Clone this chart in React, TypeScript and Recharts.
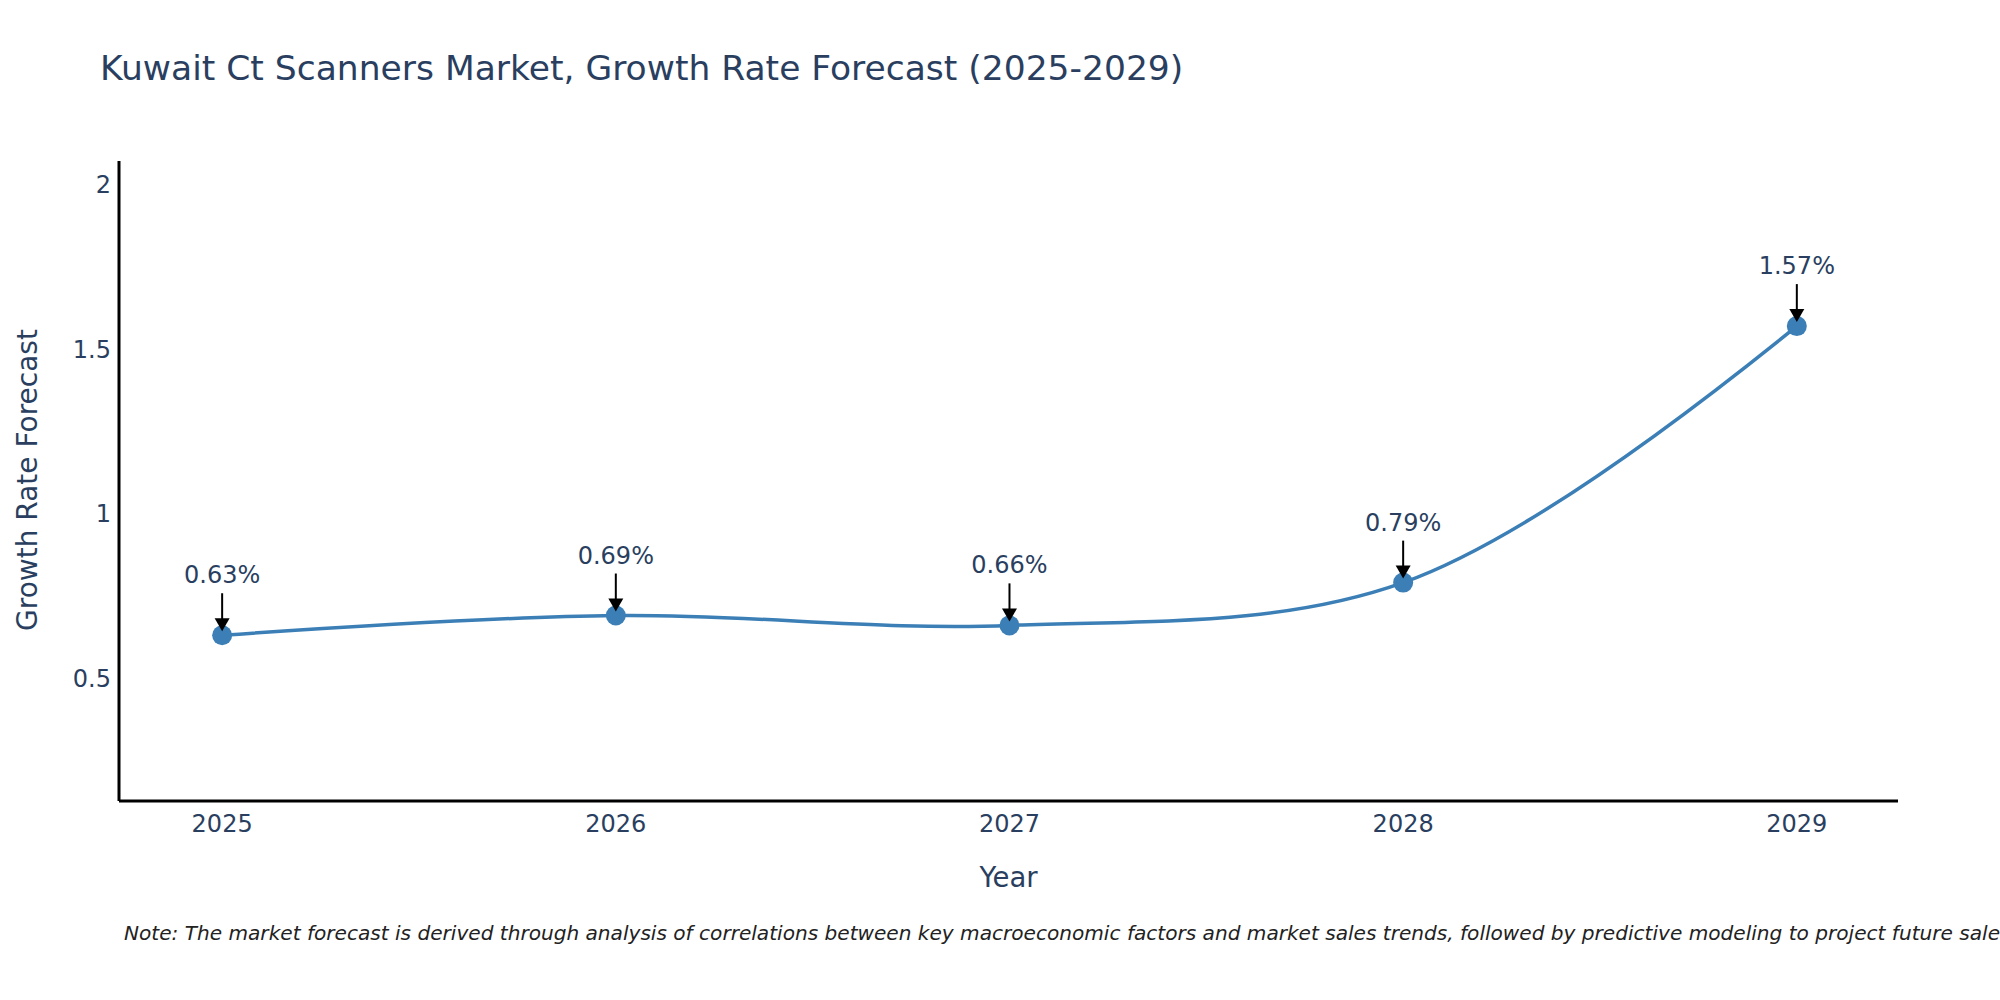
import { LineChart, Line, XAxis, YAxis, LabelList } from 'recharts';

const FONT = '"DejaVu Sans", Verdana, sans-serif';
const TEXT_COLOR = '#2a3f5f';
const LINE_COLOR = '#3b7fb6';

const years = [2025, 2026, 2027, 2028, 2029];
const growthRate = [0.63, 0.69, 0.66, 0.79, 1.57];
const yTicks = [0.5, 1, 1.5, 2];

const chartData = years.map((year, i) => ({ year, rate: growthRate[i] }));

// plotly-style spline (catmull-rom tangents, smoothing = 1)
function makeTangent(prev: number[], cur: number[], next: number[], smoothness: number) {
  const d1x = prev[0] - cur[0];
  const d1y = prev[1] - cur[1];
  const d2x = next[0] - cur[0];
  const d2y = next[1] - cur[1];
  const d1a = Math.pow(d1x * d1x + d1y * d1y, 0.25);
  const d2a = Math.pow(d2x * d2x + d2y * d2y, 0.25);
  const numx = (d2a * d2a * d1x - d1a * d1a * d2x) * smoothness;
  const numy = (d2a * d2a * d1y - d1a * d1a * d2y) * smoothness;
  const denom1 = 3 * d2a * (d1a + d2a);
  const denom2 = 3 * d1a * (d1a + d2a);
  return [
    [cur[0] + (denom1 && numx / denom1), cur[1] + (denom1 && numy / denom1)],
    [cur[0] - (denom2 && numx / denom2), cur[1] - (denom2 && numy / denom2)],
  ];
}

const plotlySpline = (context: any) => {
  let pts: number[][] = [];
  return {
    areaStart() {},
    areaEnd() {},
    lineStart() {
      pts = [];
    },
    point(x: number, y: number) {
      pts.push([+x, +y]);
    },
    lineEnd() {
      const n = pts.length;
      if (!n) return;
      context.moveTo(pts[0][0], pts[0][1]);
      if (n < 3) {
        for (let i = 1; i < n; i++) context.lineTo(pts[i][0], pts[i][1]);
        return;
      }
      const tan: number[][][] = [];
      for (let i = 1; i < n - 1; i++) tan.push(makeTangent(pts[i - 1], pts[i], pts[i + 1], 1));
      context.quadraticCurveTo(tan[0][0][0], tan[0][0][1], pts[1][0], pts[1][1]);
      for (let i = 2; i < n - 1; i++) {
        context.bezierCurveTo(
          tan[i - 2][1][0], tan[i - 2][1][1],
          tan[i - 1][0][0], tan[i - 1][0][1],
          pts[i][0], pts[i][1]
        );
      }
      context.quadraticCurveTo(tan[n - 3][1][0], tan[n - 3][1][1], pts[n - 1][0], pts[n - 1][1]);
    },
  };
};

function Annotation(props: any) {
  const x = props.x ?? props.viewBox?.x;
  const y = props.y ?? props.viewBox?.y;
  if (x == null || y == null) return null;
  return (
    <g>
      <line x1={x} y1={y - 42} x2={x} y2={y - 16} stroke="#000" strokeWidth={2} />
      <polygon points={`${x - 7.5},${y - 17} ${x + 7.5},${y - 17} ${x},${y - 4}`} fill="#000" />
      <text x={x} y={y - 52} textAnchor="middle" fontSize={24} fontFamily={FONT} fill={TEXT_COLOR}>
        {`${Number(props.value).toFixed(2)}%`}
      </text>
    </g>
  );
}

export default function App() {
  return (
    <div style={{ position: 'absolute', left: 0, top: 0, width: 2000, height: 1000, background: '#fff' }}>
      <LineChart
        width={2000}
        height={1000}
        data={chartData}
        margin={{ top: 161, right: 102, bottom: 79, left: 59 }}
      >
        <XAxis
          dataKey="year"
          type="number"
          domain={[2024.738, 2029.257]}
          ticks={years}
          allowDataOverflow
          height={120}
          axisLine={{ stroke: '#000', strokeWidth: 3 }}
          tickLine={false}
          tickSize={6}
          tickMargin={8}
          tick={{ fill: TEXT_COLOR, fontSize: 24, fontFamily: FONT }}
        />
        <YAxis
          type="number"
          domain={[0.126, 2.072]}
          ticks={yTicks}
          allowDataOverflow
          width={60}
          axisLine={{ stroke: '#000', strokeWidth: 3 }}
          tickLine={false}
          tick={{ fill: TEXT_COLOR, fontSize: 24, fontFamily: FONT }}
        />
        <Line
          dataKey="rate"
          type={plotlySpline as any}
          stroke={LINE_COLOR}
          strokeWidth={3.5}
          dot={{ r: 10, fill: LINE_COLOR, stroke: LINE_COLOR, strokeWidth: 0 }}
          activeDot={false}
          isAnimationActive={false}
        >
          <LabelList dataKey="rate" content={Annotation} />
        </Line>
      </LineChart>
      <svg
        width={2000}
        height={1000}
        style={{ position: 'absolute', left: 0, top: 0, pointerEvents: 'none' }}
      >
        <text x={100} y={80} fontSize={34.5} fontFamily={FONT} fill={TEXT_COLOR}>
          Kuwait Ct Scanners Market, Growth Rate Forecast (2025-2029)
        </text>
        <text
          x={37}
          y={480}
          fontSize={28}
          fontFamily={FONT}
          fill={TEXT_COLOR}
          textAnchor="middle"
          transform="rotate(-90, 37, 480)"
        >
          Growth Rate Forecast
        </text>
        <text x={1008.5} y={887} fontSize={27.5} fontFamily={FONT} fill={TEXT_COLOR} textAnchor="middle">
          Year
        </text>
        <text x={124} y={940} fontSize={20.1} fontFamily={FONT} fontStyle="italic" fill="#222">
          Note: The market forecast is derived through analysis of correlations between key macroeconomic factors and market sales trends, followed by predictive modeling to project future sales
        </text>
      </svg>
    </div>
  );
}
